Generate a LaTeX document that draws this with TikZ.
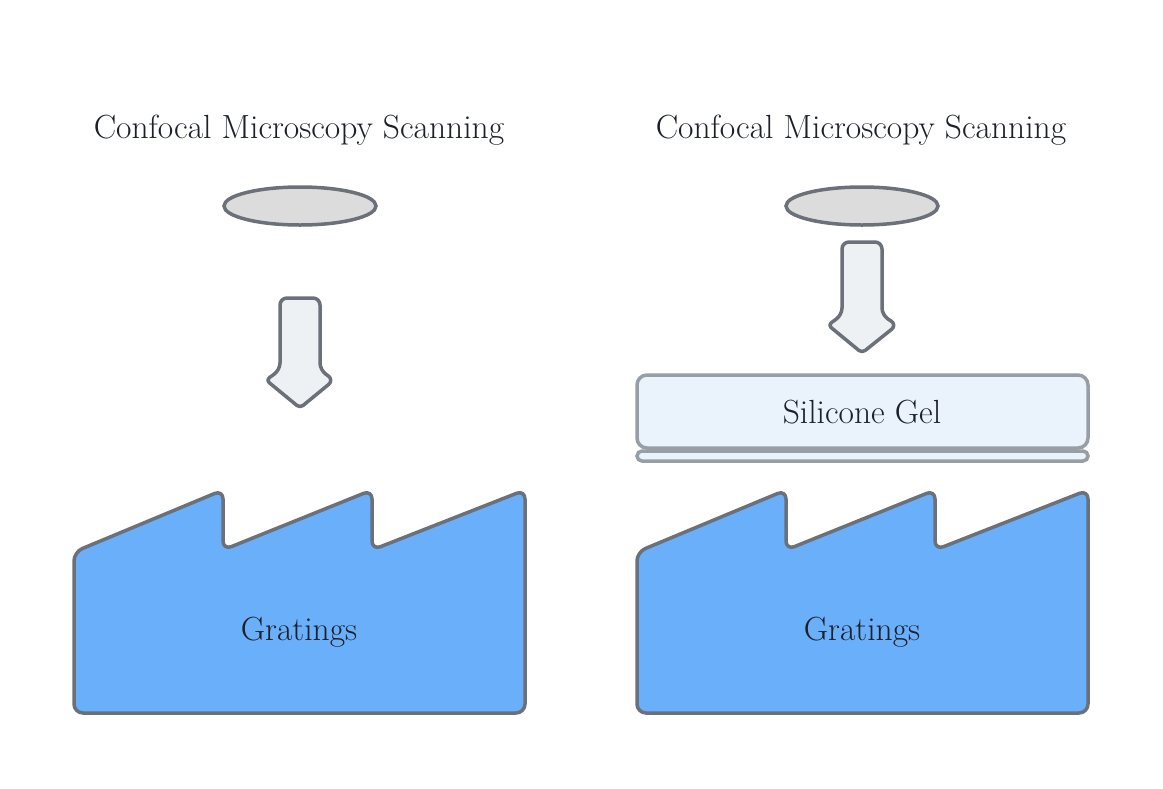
\documentclass[tikz,border=0pt]{standalone}
\usepackage{fontspec}
\usetikzlibrary{shapes.geometric}
\definecolor{strk}{HTML}{6B7079}
\definecolor{gelstrk}{HTML}{979EA6}
\definecolor{gratfill}{HTML}{6AAFFA}
\definecolor{lensfill}{HTML}{DCDCDC}
\definecolor{arrfill}{HTML}{EEF1F3}
\definecolor{gelfill}{HTML}{EAF3FB}
\definecolor{txt}{HTML}{1C2028}
\tikzset{
  lbl/.style={font=\fontsize{33.5}{40}\selectfont, text=txt, inner sep=0pt},
  lens/.style={ellipse, draw=strk, fill=lensfill, line width=3.5pt, minimum width=152pt, minimum height=38pt, inner sep=0pt},
  bigarrow/.style={draw=strk, fill=arrfill, line width=3.5pt, rounded corners=7pt, line join=round},
  grating/.style={draw=strk, fill=gratfill, line width=3.5pt, rounded corners=9pt, line join=round},
  gelbox/.style={draw=gelstrk, fill=gelfill, line width=3.5pt, rounded corners=10pt},
  gelbar/.style={draw=gelstrk, fill=gelfill, line width=3.5pt, rounded corners=5pt},
}
\begin{document}
\begin{tikzpicture}[x=1pt,y=-1pt]
\useasboundingbox[fill=white] (0,0) rectangle (1163,788);

% ---------- left ----------
\node[lbl] (titleL) at (299,130) {Confocal Microscopy Scanning};
\node[lens] (lensL) at (300,206) {};
\draw[bigarrow] (280,298) -- (320,298) -- (320,370) -- (334,380) [rounded corners=4pt] -- (300,408) -- (266,380) [rounded corners=7pt] -- (280,370) -- cycle;
\draw[grating] (74,713) -- (74,552) -- (223,490) -- (223,550) -- (372,490) -- (372,550) -- (525,490) -- (525,713) -- cycle;
\node[lbl] (gratL) at (299,632) {Gratings};

% ---------- right ----------
\node[lbl] (titleR) at (861,130) {Confocal Microscopy Scanning};
\node[lens] (lensR) at (862,206) {};
\draw[bigarrow] (842,242) -- (882,242) -- (882,315) -- (897,325) [rounded corners=4pt] -- (862,353) -- (828,325) [rounded corners=7pt] -- (842,315) -- cycle;
\draw[gelbox] (637,375) rectangle (1088,448);
\node[lbl] (gel) at (862,412) {Silicone Gel};
\draw[gelbar] (637,451) rectangle (1088,461);
\draw[grating] (637,713) -- (637,552) -- (786,490) -- (786,550) -- (935,490) -- (935,550) -- (1088,490) -- (1088,713) -- cycle;
\node[lbl] (gratR) at (862,632) {Gratings};
\end{tikzpicture}
\end{document}
